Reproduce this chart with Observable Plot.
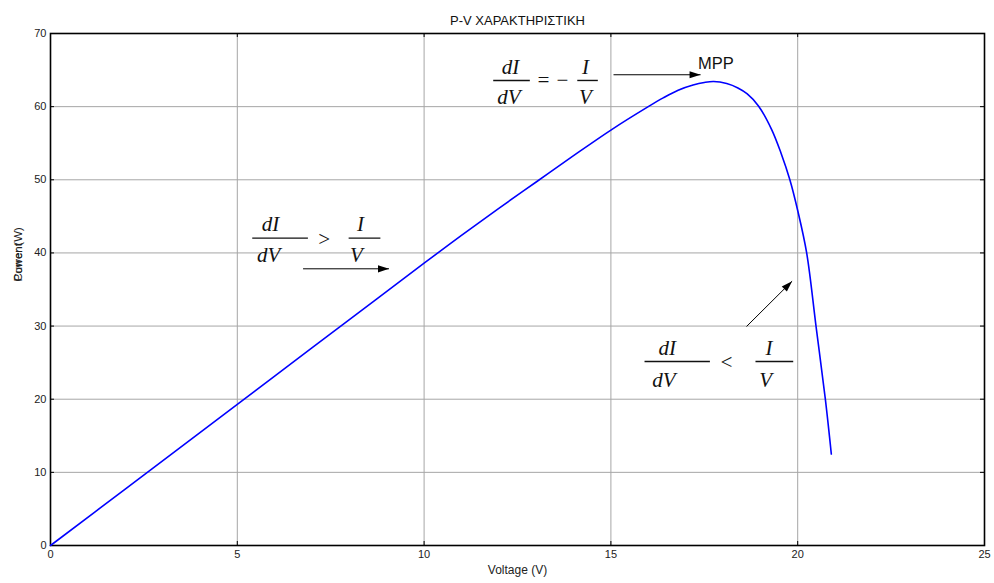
<!DOCTYPE html>
<html>
<head>
<meta charset="utf-8">
<script src="https://cdn.jsdelivr.net/npm/d3@7"></script>
<script src="https://cdn.jsdelivr.net/npm/@observablehq/plot@0.6"></script>
<style>
  html, body { margin: 0; padding: 0; background: #fff; }
  #chart svg { display: block; }
</style>
</head>
<body>
<div id="chart"></div>
<script>
// PV module power–voltage curve
const voltage = [0, 2, 4, 6, 8, 10, 11, 12, 13, 14, 15, 16, 16.4, 16.8, 17.2, 17.5, 17.75, 18.1, 18.4, 18.65, 18.95, 19.3, 19.55, 19.79, 20.0, 20.24, 20.49, 20.74, 20.9];
const power   = [0, 7.72, 15.44, 23.16, 30.88, 38.6, 42.4, 46.1, 49.7, 53.3, 56.8, 60.0, 61.2, 62.25, 62.95, 63.3, 63.44, 63.16, 62.56, 61.74, 60.1, 56.9, 53.7, 50.0, 45.8, 40.0, 30.0, 20.0, 12.5];

const xTicks = [0, 5, 10, 15, 20, 25];
const yTicks = [0, 10, 20, 30, 40, 50, 60, 70];

const title = "P-V ΧΑΡΑΚΤΗΡΙΣΤΙΚΗ";
const xLabel = "Voltage (V)";
// two axis labels written on top of each other
const yLabels = [
  {x: -0.86, y: 36.1, text: "Current"},
  {x: -0.86, y: 36.1, text: "Power (W)"}
];

// Incremental-conductance conditions written as fractions
const mathText = [
  {x: 5.89, y: 43.98, text: "dI"}, {x: 5.84, y: 39.65, text: "dV"},
  {x: 7.32, y: 41.93, text: ">"},
  {x: 8.30, y: 43.98, text: "I"}, {x: 8.19, y: 39.65, text: "V"},
  {x: 12.31, y: 65.40, text: "dI"}, {x: 12.27, y: 61.29, text: "dV"},
  {x: 13.19, y: 63.58, text: "="}, {x: 13.70, y: 63.58, text: "−"},
  {x: 14.32, y: 65.40, text: "I"}, {x: 14.32, y: 61.29, text: "V"},
  {x: 16.51, y: 27.03, text: "dI"}, {x: 16.42, y: 22.65, text: "dV"},
  {x: 18.09, y: 25.06, text: "<"},
  {x: 19.23, y: 27.03, text: "I"}, {x: 19.14, y: 22.65, text: "V"}
];
const fractionBars = [
  {x1: 5.40, x2: 6.89, y: 42.02}, {x1: 7.98, x2: 8.83, y: 42.02},
  {x1: 11.85, x2: 12.83, y: 63.58}, {x1: 14.10, x2: 14.65, y: 63.58},
  {x1: 15.90, x2: 17.65, y: 25.16}, {x1: 18.87, x2: 19.88, y: 25.16}
];
const arrows = [
  {x1: 6.76, y1: 37.83, x2: 9.06, y2: 37.83, angle: 90},
  {x1: 15.07, y1: 64.36, x2: 17.40, y2: 64.36, angle: 90},
  {x1: 18.63, y1: 29.94, x2: 19.85, y2: 36.14, angle: 45}
];
const mppLabel = [{x: 17.33, y: 65.86, text: "MPP"}];

const curve = voltage.map((v, i) => ({v, p: power[i]}));

// Filled arrowhead with its tip at the origin, pointing up
const arrowHead = {
  draw(context) {
    context.moveTo(0, 0);
    context.lineTo(-3.6, 11);
    context.lineTo(3.6, 11);
    context.closePath();
  }
};

const W = 994, H = 583;
const mL = 50, mR = 10, mT = 33, mB = 38;
const innerH = H - mT - mB, innerW = W - mL - mR;
const tickLen = 4;
const serif = "'Liberation Serif', 'Times New Roman', serif";

const chart = Plot.plot({
  width: W,
  height: H,
  marginLeft: mL,
  marginRight: mR,
  marginTop: mT,
  marginBottom: mB,
  style: {fontFamily: "'Liberation Sans', Arial, sans-serif", fontSize: "11px", color: "#222", background: "#fff"},
  x: {domain: [0, 25]},
  y: {domain: [0, 70]},
  marks: [
    Plot.gridX(xTicks, {stroke: "#a6a6a6", strokeOpacity: 1, strokeWidth: 1}),
    Plot.gridY(yTicks, {stroke: "#a6a6a6", strokeOpacity: 1, strokeWidth: 1}),
    // inward ticks on all four sides
    Plot.tickX(xTicks, {x: d => d, stroke: "#000", insetTop: innerH - tickLen}),
    Plot.tickX(xTicks, {x: d => d, stroke: "#000", insetBottom: innerH - tickLen}),
    Plot.tickY(yTicks, {y: d => d, stroke: "#000", insetRight: innerW - tickLen}),
    Plot.tickY(yTicks, {y: d => d, stroke: "#000", insetLeft: innerW - tickLen}),
    Plot.axisX(xTicks, {tickSize: 0, tickPadding: 5, fill: "#222", fontSize: 11, label: null}),
    Plot.axisY(yTicks, {tickSize: 0, tickPadding: 4, fill: "#222", fontSize: 11, label: null}),
    Plot.frame({stroke: "#000", strokeWidth: 1.6}),
    Plot.line(curve, {x: "v", y: "p", stroke: "#0000ff", strokeWidth: 1.6, curve: "catmull-rom"}),
    // annotations
    Plot.text(mathText, {x: "x", y: "y", text: "text", fontFamily: serif, fontStyle: "italic", fontSize: 21, fill: "#111"}),
    Plot.link(fractionBars, {x1: "x1", x2: "x2", y1: "y", y2: "y", stroke: "#111", strokeWidth: 1.4}),
    Plot.link(arrows, {x1: "x1", y1: "y1", x2: "x2", y2: "y2", stroke: "#000", strokeWidth: 1}),
    Plot.dot(arrows, {x: "x2", y: "y2", symbol: arrowHead, rotate: "angle", fill: "#000", stroke: "none", r: 4}),
    Plot.text(mppLabel, {x: "x", y: "y", text: "text", textAnchor: "start", fontSize: 16.5, fill: "#111"}),
    // title and axis labels
    Plot.text([title], {frameAnchor: "top", dy: -18, fontSize: 13, fill: "#111"}),
    Plot.text([xLabel], {frameAnchor: "bottom", dy: 28, fontSize: 12, fill: "#222"}),
    Plot.text(yLabels, {x: "x", y: "y", text: "text", rotate: -90, textAnchor: "start", fontSize: 11.5, fill: "#222"})
  ]
});

document.getElementById("chart").appendChild(chart);
</script>
</body>
</html>
